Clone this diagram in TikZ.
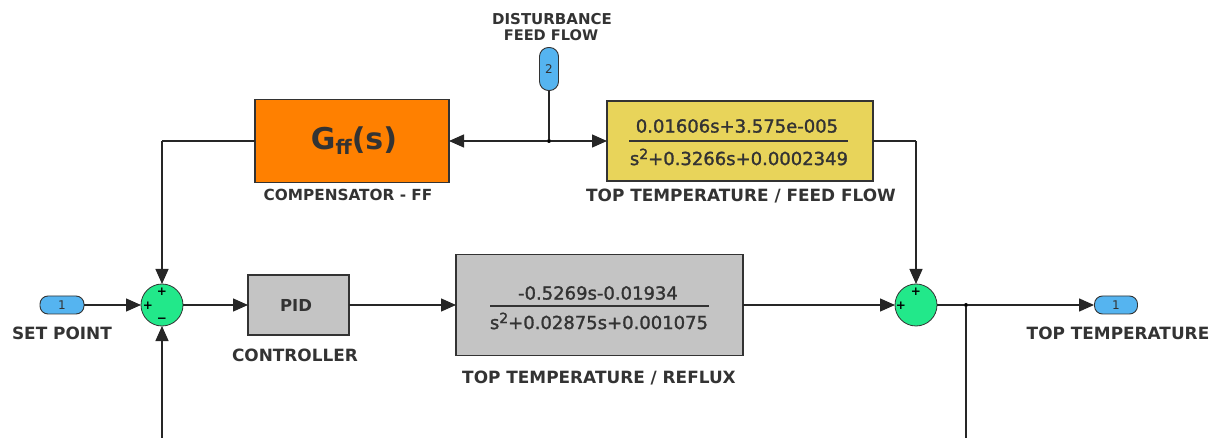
\documentclass[tikz,border=0pt]{standalone}
\usepackage{fontspec}
\setmainfont{DejaVu Sans}
\newfontfamily\fracfont{DejaVu Sans}[FakeBold=1.5]
\usetikzlibrary{arrows.meta}
\definecolor{txt}{HTML}{333333}
\definecolor{portblue}{HTML}{55B4F0}
\definecolor{sumgreen}{HTML}{22E88A}
\definecolor{boxgray}{HTML}{C4C4C4}
\definecolor{ffyellow}{HTML}{E8D45A}
\definecolor{gfforange}{HTML}{FF8000}
\newcommand{\sqsup}{\raisebox{6pt}{\fontsize{14}{14}\selectfont 2}}
\tikzset{
  wire/.style={line width=1.3pt, draw=black!85},
  arr/.style={wire, -{Triangle[length=15pt,width=13pt]}},
  port/.style={draw=black!80, line width=0.9pt, fill=portblue, rectangle, rounded corners=8pt, inner sep=0pt, font=\fontsize{12}{12}\selectfont, text=txt},
  sumnode/.style={circle, draw=black!80, line width=0.8pt, fill=sumgreen, minimum size=42pt, inner sep=0pt, outer sep=0pt},
  blk/.style={draw=black!80, line width=1.2pt, rectangle, inner sep=0pt, outer sep=0pt},
  lbl/.style={font=\bfseries\fontsize{16.9}{16.9}\selectfont, text=txt, inner sep=0pt},
  frac/.style={font=\fracfont\fontsize{18}{18}\selectfont, text=txt, inner sep=0pt},
  sgn/.style={font=\bfseries\fontsize{12}{12}\selectfont, text=black, inner sep=0pt},
  dot/.style={circle, fill=black, minimum size=4pt, inner sep=0pt}
}
\begin{document}
\begin{tikzpicture}[x=1pt,y=-1pt]
\useasboundingbox (0,0) rectangle (1218,438);
% ports
\node[port, minimum width=44pt, minimum height=18pt] (sp) at (62,305) {1};
\node[lbl] (splbl) at (62,333) {SET POINT};
\node[port, minimum width=43pt, minimum height=18pt] (tt) at (1116,305) {1};
\node[lbl] (ttlbl) at (1118,333) {TOP TEMPERATURE};
\node[port, minimum width=19pt, minimum height=43pt, rounded corners=9pt] (dist) at (549,69) {2};
\node[lbl, font=\bfseries\fontsize{15}{15}\selectfont] (distlbl1) at (552,19) {DISTURBANCE};
\node[lbl, font=\bfseries\fontsize{14.6}{14.6}\selectfont] (distlbl2) at (551,35) {FEED FLOW};
% sums
\node[sumnode] (s1) at (162,305) {};
\node[sgn] (s1a) at (162,292) {+};
\node[sgn] (s1b) at (148,306) {+};
\node[sgn] (s1c) at (162,320) {\textminus};
\node[sumnode] (s2) at (916,305) {};
\node[sgn] (s2a) at (916,292) {+};
\node[sgn] (s2b) at (901,306) {+};
% PID
\node[blk, fill=boxgray, minimum width=101pt, minimum height=60pt] (pid) at (298.5,305) {};
\node[font=\bfseries\fontsize{16.5}{16.5}\selectfont, text=txt] (pidtxt) at (296,305) {PID};
\node[lbl] (pidlbl) at (295,355) {CONTROLLER};
% reflux TF
\node[blk, fill=boxgray, minimum width=287pt, minimum height=101pt] (rf) at (599.5,305) {};
\node[frac] (rfnum) at (598,293) {-0.5269s-0.01934};
\node[frac] (rfden) at (599,321) {s\sqsup+0.02875s+0.001075};
\draw[line width=1.2pt, draw=txt] (490,306) -- (709,306);
\node[lbl] (rflbl) at (599,378) {TOP TEMPERATURE / REFLUX};
% Gff
\node[blk, fill=gfforange, minimum width=194pt, minimum height=83pt] (gff) at (352,141) {};
\node[font=\bfseries\fontsize{30}{30}\selectfont, text=txt] (gfftxt) at (354,141) {G\raisebox{-5pt}{\fontsize{20}{20}\selectfont ff}(s)};
\node[lbl, font=\bfseries\fontsize{15.3}{15.3}\selectfont] (gfflbl) at (348,195) {COMPENSATOR - FF};
% FF TF
\node[blk, fill=ffyellow, minimum width=266pt, minimum height=80pt] (ff) at (740,141) {};
\node[frac] (ffnum) at (737,126) {0.01606s+3.575e-005};
\node[frac] (ffden) at (739,157) {s\sqsup+0.3266s+0.0002349};
\draw[line width=1.2pt, draw=txt] (629,141) -- (848,141);
\node[lbl] (fflbl) at (741,196) {TOP TEMPERATURE / FEED FLOW};
% junctions
\node[dot] (j1) at (549,141) {};
\node[dot] (j2) at (966,305) {};
\coordinate (c1) at (162,141);
\coordinate (c2) at (916,141);
\coordinate (fb1) at (162,438);
\coordinate (fb2) at (966,438);
% connectors
\draw[wire] (dist.south) -- (j1);
\draw[arr] (j1) -- (gff.east);
\draw[arr] (j1) -- (ff.west);
\draw[wire] (gff.west) -- (c1);
\draw[arr] (c1) -- (s1.north);
\draw[wire] (ff.east) -- (c2);
\draw[arr] (c2) -- (s2.north);
\draw[arr] (sp.east) -- (s1.west);
\draw[arr] (fb1) -- (s1.south);
\draw[arr] (s1.east) -- (pid.west);
\draw[arr] (pid.east) -- (rf.west);
\draw[arr] (rf.east) -- (s2.west);
\draw[wire] (s2.east) -- (j2);
\draw[arr] (j2) -- (tt.west);
\draw[wire] (j2) -- (fb2);
\end{tikzpicture}
\end{document}
